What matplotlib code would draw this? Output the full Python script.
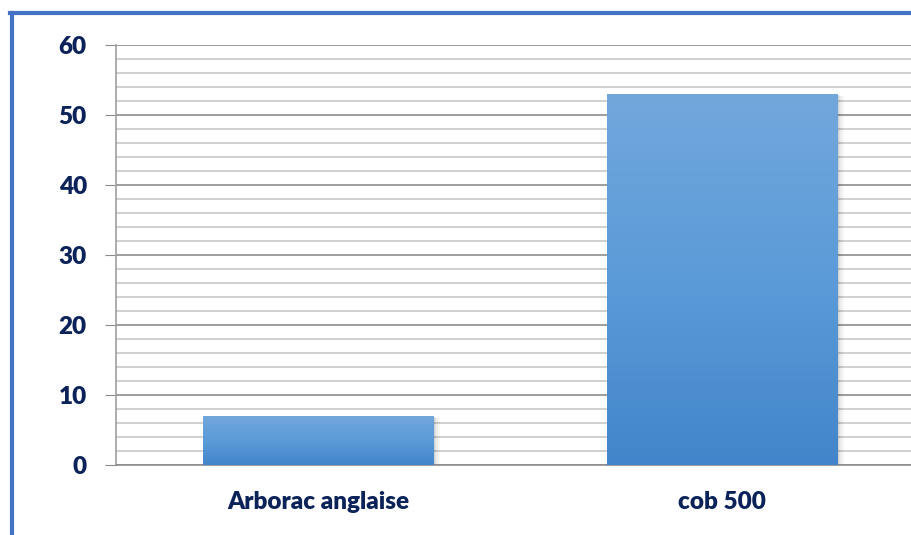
import numpy as np
import matplotlib

matplotlib.use('Agg')
import matplotlib.pyplot as plt
from matplotlib.colors import LinearSegmentedColormap
from matplotlib.patches import Rectangle
from matplotlib.lines import Line2D

plt.rcParams['font.family'] = ['Lato', 'DejaVu Sans']

# données
categories = ['Arborac anglaise', 'cob 500']
values = [7, 53]

TEXT = '#0B2358'
bar_cmap = LinearSegmentedColormap.from_list('bar', ['#4285CA', '#5B9BD8', '#72A7DC'])

fig = plt.figure(figsize=(9.12, 5.35), dpi=100)
ax = fig.add_axes([116 / 912, 70 / 535, 808 / 912, 420 / 535])

x = np.arange(len(categories))
width = 0.57
bars = ax.bar(x, values, width=width, color='none', edgecolor='none', zorder=3)

# dégradé + ombre
grad = np.linspace(0, 1, 256).reshape(-1, 1)
for b in bars:
    x0, y0 = b.get_x(), b.get_y()
    w, h = b.get_width(), b.get_height()
    for k, a in enumerate([0.06, 0.05, 0.04, 0.03]):
        d = 0.004 * (k + 1)
        ax.add_patch(Rectangle((x0 + d * 0.5, y0 - d * 60), w + d * 0.5, h + d * 40,
                               facecolor='black', alpha=a, edgecolor='none', zorder=2))
    im = ax.imshow(grad, cmap=bar_cmap, aspect='auto', origin='lower',
                   extent=[x0, x0 + w, y0, y0 + h], zorder=3)
    im.set_clip_path(b)

ax.set_xlim(-0.5, 1.5)
ax.set_ylim(0, 60)
ax.set_yticks(range(0, 61, 10))
ax.set_yticks(range(0, 61, 2), minor=True)
ax.grid(axis='y', which='major', color='#8C8C8C', linewidth=1.2, zorder=1)
ax.grid(axis='y', which='minor', color='#C8C8C8', linewidth=1.2, zorder=1)
ax.set_axisbelow(True)

ax.set_xticks(x)
ax.set_xticklabels(categories)
ax.tick_params(axis='x', length=0, pad=19)
ax.tick_params(axis='y', which='major', length=8, color='#8C8C8C', pad=13)
ax.tick_params(axis='y', which='minor', length=0)
for lab in ax.get_xticklabels() + ax.get_yticklabels():
    lab.set_fontsize(17.5)
    lab.set_fontweight('heavy')
    lab.set_color(TEXT)

for s in ['top', 'right']:
    ax.spines[s].set_visible(False)
ax.spines['left'].set_color('#A0A0A0')
ax.spines['bottom'].set_color('#8C8C8C')
ax.spines['left'].set_linewidth(1.2)
ax.spines['bottom'].set_linewidth(1.2)

# cadre bleu
fig.add_artist(Line2D([10 / 912, 1], [1 - 13 / 535] * 2, color='#4472C4', linewidth=3))
fig.add_artist(Line2D([12 / 912] * 2, [0, 1 - 13 / 535], color='#4472C4', linewidth=3))

fig.savefig('out.png', dpi=100)
